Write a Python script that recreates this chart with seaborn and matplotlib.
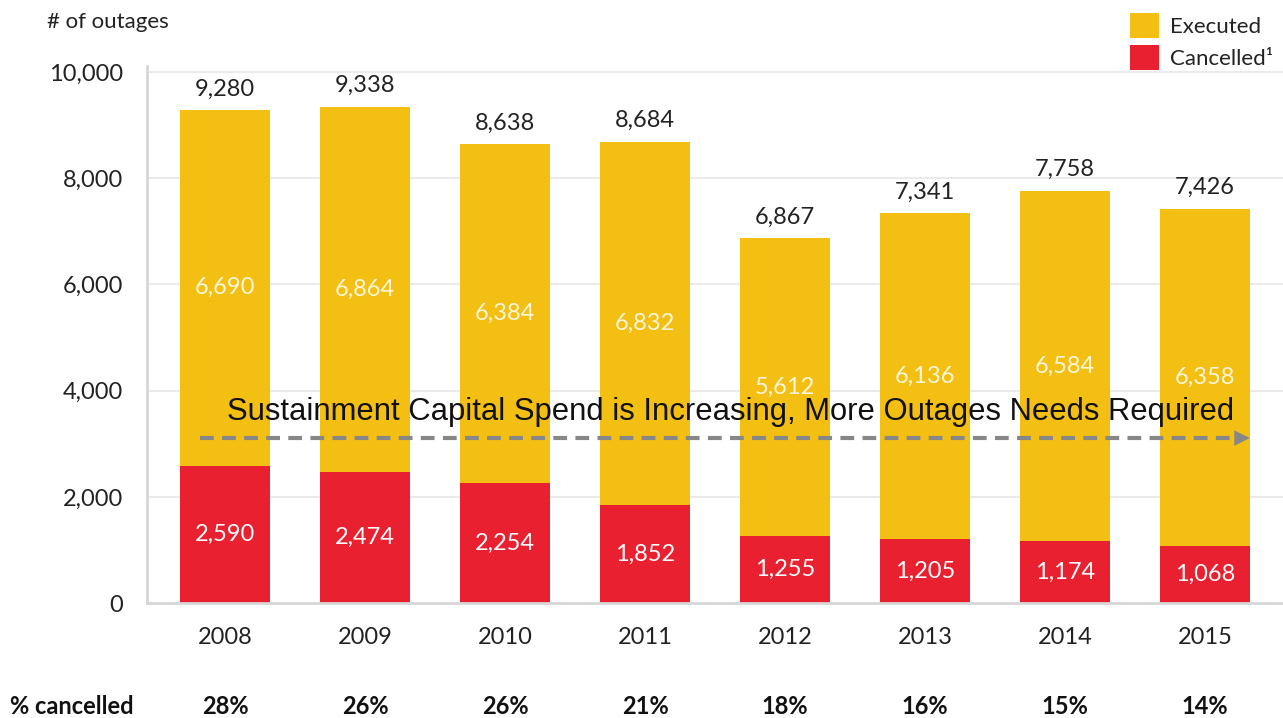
import matplotlib
matplotlib.use("Agg")
import matplotlib.pyplot as plt
import matplotlib.transforms as mtransforms
import seaborn as sns
import numpy as np
import pandas as pd

# Outage counts per year
years = ["2008", "2009", "2010", "2011", "2012", "2013", "2014", "2015"]
executed = [6690, 6864, 6384, 6832, 5612, 6136, 6584, 6358]
cancelled = [2590, 2474, 2254, 1852, 1255, 1205, 1174, 1068]
pct_cancelled = ["28%", "26%", "26%", "21%", "18%", "16%", "15%", "14%"]
yticks = [0, 2000, 4000, 6000, 8000, 10000]

YELLOW = "#F2BF12"
RED = "#E8202F"
GRID = "#ebebeb"

sns.set_theme(style="white")
plt.rcParams["font.family"] = ["Lato", "DejaVu Sans"]

df = pd.DataFrame({"year": years, "executed": executed, "cancelled": cancelled})
df["total"] = df["executed"] + df["cancelled"]

fig = plt.figure(figsize=(12.83, 7.18), dpi=100)
ax = fig.add_axes([0.1146, 0.160, 0.8854, 0.748])

# Stacked bars: total (executed on top) drawn first, cancelled over it
sns.barplot(data=df, x="year", y="total", color=YELLOW, width=0.64,
            saturation=1, ax=ax, label="Executed", zorder=2, linewidth=0)
sns.barplot(data=df, x="year", y="cancelled", color=RED, width=0.64,
            saturation=1, ax=ax, label="Cancelled\u00b9", zorder=2, linewidth=0)

ax.set_xlim(-0.557, 7.557)
ax.set_ylim(0, 10110)
ax.set_yticks(yticks)
ax.set_yticklabels([f"{v:,}" for v in yticks])
ax.set_xlabel("")
ax.set_ylabel("")

# Faint horizontal gridlines
for v in yticks[1:]:
    ax.axhline(v, color=GRID, lw=1.5, zorder=0)

for side in ["top", "right"]:
    ax.spines[side].set_visible(False)
for side in ["left", "bottom"]:
    ax.spines[side].set_color("#d6d6d6")
    ax.spines[side].set_linewidth(2)
ax.spines["bottom"].set_zorder(3)

ax.tick_params(axis="y", length=0, pad=17, labelsize=17, labelcolor="#222222")
ax.tick_params(axis="x", length=0, pad=17, labelsize=17, labelcolor="#222222")

# Value labels
for i, row in df.iterrows():
    ax.text(i, row["total"] + 400, f"{row['total']:,}", ha="center", va="center",
            fontsize=17, color="#222222")
    ax.text(i, row["cancelled"] + row["executed"] / 2, f"{row['executed']:,}",
            ha="center", va="center", fontsize=17, color="#fff6dc", zorder=4)
    ax.text(i, row["cancelled"] / 2, f"{row['cancelled']:,}",
            ha="center", va="center", fontsize=17, color="white", zorder=4)

# Percentage cancelled row beneath the years
trans = mtransforms.blended_transform_factory(ax.transData, fig.transFigure)
fig.text(0.008, 0.0165, "% cancelled", ha="left", va="center",
         fontsize=17, fontweight="bold", color="#111111")
for i, p in enumerate(pct_cancelled):
    ax.text(i, 0.0165, p, transform=trans, ha="center", va="center",
            fontsize=17, fontweight="bold", color="#111111", clip_on=False)

fig.text(0.037, 0.969, "# of outages", ha="left", va="center",
         fontsize=16, color="#222222")

# Trend arrow with caption
arrow_y = 3107
x0, x1 = -0.18, 7.34
ax.plot([x0, x1 - 0.08], [arrow_y, arrow_y], color="#878787", lw=3,
        linestyle=(0, (3.3, 2)), zorder=5, solid_capstyle="butt")
ax.annotate("", xy=(x1, arrow_y), xytext=(x1 - 0.12, arrow_y),
            arrowprops=dict(arrowstyle="-|>", color="#878787", lw=0,
                            mutation_scale=28), zorder=5)
ax.text(3.61, 3600, "Sustainment Capital Spend is Increasing, More Outages Needs Required",
        ha="center", va="center", fontsize=22.3, color="#111111",
        family=["Liberation Sans", "DejaVu Sans"], zorder=6)

# Legend in the top right corner
handles, labels = ax.get_legend_handles_labels()
leg = ax.legend(handles, labels, loc="upper right", bbox_to_anchor=(1.003, 1.0),
                bbox_transform=fig.transFigure, frameon=False, fontsize=16,
                handlelength=1.3, handleheight=1.3, handletextpad=0.5,
                labelspacing=0.35, borderaxespad=0.2)
for t in leg.get_texts():
    t.set_color("#222222")

fig.savefig("out.png", dpi=100)
